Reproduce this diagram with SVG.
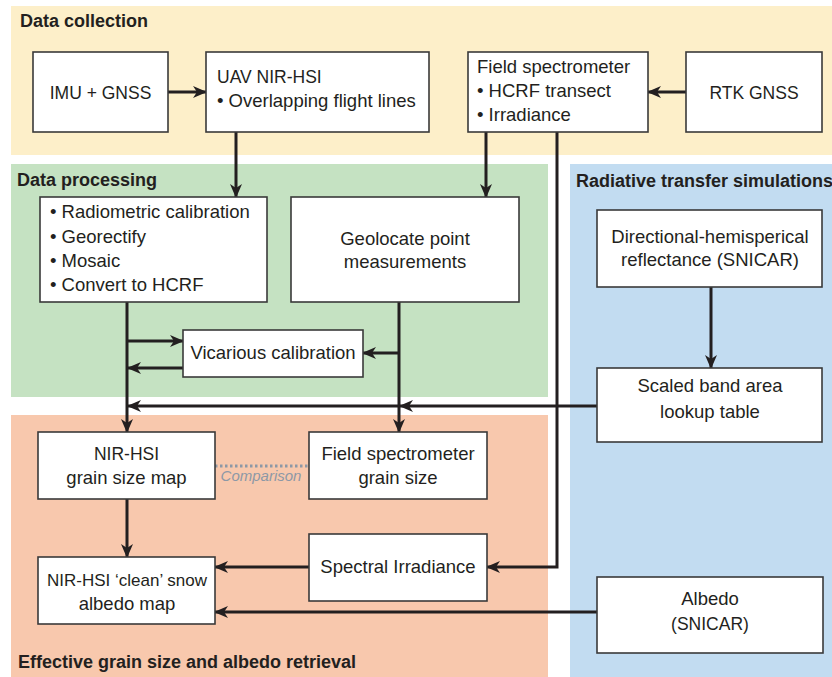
<svg xmlns="http://www.w3.org/2000/svg" width="832" height="677" viewBox="0 0 832 677">
<style>
.bg{fill:#ffffff}
.box{fill:#ffffff;stroke:#3a3a3a;stroke-width:1.6}
.t{font-family:"Liberation Sans",Arial,sans-serif;font-size:18.5px;fill:#231f20}
.u{font-family:"Liberation Sans",Arial,sans-serif;font-size:17.5px;fill:#231f20}
.n{font-family:"Liberation Sans",Arial,sans-serif;font-size:17px;fill:#231f20}
.c{text-anchor:middle}
.h{font-family:"Liberation Sans",Arial,sans-serif;font-size:18px;font-weight:bold;fill:#231f20}
.ar{fill:none;stroke:#231f20;stroke-width:3;marker-end:url(#ah)}
.cmp{font-family:"Liberation Sans",Arial,sans-serif;font-size:15px;font-style:italic;fill:#8d98a6;text-anchor:middle}
</style>
<defs>
<marker id="ah" markerUnits="userSpaceOnUse" markerWidth="14" markerHeight="14" viewBox="0 0 14 14" refX="13" refY="7" orient="auto">
<path d="M0,1 L14,7 L0,13 L4,7 Z" fill="#231f20"/>
</marker>
</defs>
<rect class="bg" x="0" y="0" width="832" height="677"/>
<g id="panels">
<rect x="11" y="6" width="821" height="149" fill="#fdefc9"/>
<rect x="11" y="164" width="537" height="233" fill="#c5e2c2"/>
<rect x="11" y="415" width="537" height="262" fill="#f8c8ad"/>
<rect x="570" y="164" width="262" height="513" fill="#c2dcf1"/>
<text class="h" x="20" y="27">Data collection</text>
<text class="h" x="17" y="186">Data processing</text>
<text class="h" x="576" y="187">Radiative transfer simulations</text>
<text class="h" x="18" y="668">Effective grain size and albedo retrieval</text>
</g>
<g id="connectors">
<line class="ar" x1="168" y1="92" x2="206" y2="92"/>
<line class="ar" x1="686" y1="92" x2="648" y2="92"/>
<line class="ar" x1="236" y1="132" x2="236" y2="197"/>
<line class="ar" x1="486" y1="132" x2="486" y2="197"/>
<polyline class="ar" points="557,132 557,567 487,567"/>
<line class="ar" x1="711" y1="287" x2="711" y2="368"/>
<line class="ar" x1="597" y1="406" x2="400" y2="406"/>
<line class="ar" x1="400" y1="406" x2="128" y2="406"/>
<line class="ar" x1="127" y1="302" x2="127" y2="432"/>
<line class="ar" x1="127" y1="341" x2="183" y2="341"/>
<line class="ar" x1="183" y1="368" x2="128" y2="368"/>
<line class="ar" x1="399" y1="302" x2="399" y2="432"/>
<line class="ar" x1="399" y1="353" x2="363" y2="353"/>
<line class="ar" x1="127" y1="499" x2="127" y2="557"/>
<line class="ar" x1="309" y1="567" x2="215" y2="567"/>
<line class="ar" x1="597" y1="612" x2="215" y2="612"/>
<line x1="215" y1="466" x2="308" y2="466" stroke="#8d98a6" stroke-width="3" stroke-dasharray="2.5,2.5"/>
<text class="cmp" x="261" y="481">Comparison</text>
</g>
<g id="imu">
<rect class="box" x="33" y="52" width="135" height="80"/>
<text class="u c" x="100.5" y="99">IMU + GNSS</text>
</g>
<g id="uav">
<rect class="box" x="206" y="52" width="223" height="80"/>
<text class="u" x="217" y="83">UAV NIR-HSI</text>
<text class="t" x="217" y="107">• Overlapping flight lines</text>
</g>
<g id="fieldspec">
<rect class="box" x="468" y="52" width="180" height="80"/>
<text class="t" x="477" y="73">Field spectrometer</text>
<text class="t" x="477" y="97">• HCRF transect</text>
<text class="t" x="477" y="121">• Irradiance</text>
</g>
<g id="rtk">
<rect class="box" x="686" y="52" width="136" height="80"/>
<text class="u c" x="754" y="99">RTK GNSS</text>
</g>
<g id="radiometric">
<rect class="box" x="40" y="197" width="227" height="105"/>
<text class="t" x="50" y="218">• Radiometric calibration</text>
<text class="t" x="50" y="243">• Georectify</text>
<text class="t" x="50" y="267">• Mosaic</text>
<text class="t" x="50" y="291">• Convert to HCRF</text>
</g>
<g id="geolocate">
<rect class="box" x="291" y="197" width="228" height="105"/>
<text class="t c" x="405" y="245">Geolocate point</text>
<text class="t c" x="405" y="268">measurements</text>
</g>
<g id="vicarious">
<rect class="box" x="183" y="330" width="180" height="47"/>
<text class="t c" x="273" y="359">Vicarious calibration</text>
</g>
<g id="directional">
<rect class="box" x="597" y="210" width="225" height="77"/>
<text class="t c" x="710" y="243">Directional-hemisperical</text>
<text class="t c" x="710" y="266">reflectance (SNICAR)</text>
</g>
<g id="lookup">
<rect class="box" x="597" y="368" width="225" height="74"/>
<text class="t c" x="710" y="392">Scaled band area</text>
<text class="t c" x="710" y="418">lookup table</text>
</g>
<g id="nirgrain">
<rect class="box" x="38" y="432" width="177" height="67"/>
<text class="u c" x="126.5" y="460">NIR-HSI</text>
<text class="t c" x="126.5" y="484">grain size map</text>
</g>
<g id="fsgrain">
<rect class="box" x="309" y="432" width="178" height="67"/>
<text class="t c" x="398" y="460">Field spectrometer</text>
<text class="t c" x="398" y="484">grain size</text>
</g>
<g id="spectral">
<rect class="box" x="309" y="534" width="178" height="67"/>
<text class="t c" x="398" y="573">Spectral Irradiance</text>
</g>
<g id="albedomap">
<rect class="box" x="38" y="557" width="177" height="67"/>
<text class="n c" x="127" y="586">NIR-HSI ‘clean’ snow</text>
<text class="t c" x="127" y="610">albedo map</text>
</g>
<g id="albedo">
<rect class="box" x="597" y="577" width="226" height="76"/>
<text class="t c" x="710" y="605">Albedo</text>
<text class="u c" x="710" y="630">(SNICAR)</text>
</g>
</svg>
